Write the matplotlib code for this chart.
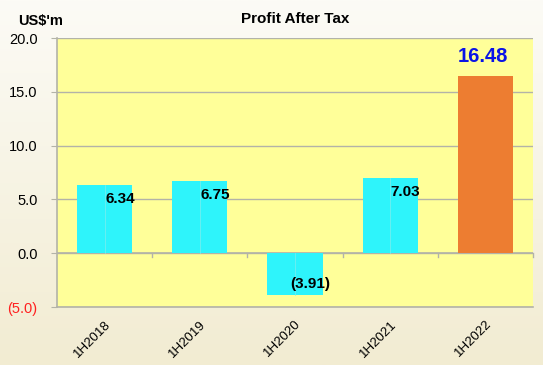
import numpy as np
import matplotlib
matplotlib.use("Agg")
import matplotlib.pyplot as plt
from matplotlib.colors import LinearSegmentedColormap

plt.rcParams["font.family"] = ["Liberation Sans", "DejaVu Sans"]

# ── Data ──────────────────────────────────────────────────────────────────────
periods = ["1H2018", "1H2019", "1H2020", "1H2021", "1H2022"]
profit = [6.34, 6.75, -3.91, 7.03, 16.48]
labels = ["6.34", "6.75", "(3.91)", "7.03", "16.48"]
yticks = [-5, 0, 5, 10, 15, 20]
ytick_labels = ["(5.0)", "0.0", "5.0", "10.0", "15.0", "20.0"]

CYAN = "#2ef4fb"
ORANGE = "#ed7d31"
PLOT_BG = "#ffff99"
GRID = "#b3b3a8"

fig = plt.figure(figsize=(5.43, 3.65), dpi=100)

# gradient background
bg = fig.add_axes([0, 0, 1, 1], zorder=-10)
cmap = LinearSegmentedColormap.from_list("bg", ["#f2ecd2", "#fcfbf6"])
bg.imshow(np.linspace(0, 1, 256).reshape(-1, 1), aspect="auto", cmap=cmap,
          origin="lower", extent=[0, 1, 0, 1])
bg.axis("off")

ax = fig.add_axes([57 / 543, 1 - 307 / 365, 476 / 543, 269 / 365])
ax.set_facecolor(PLOT_BG)

x = np.arange(len(periods))
colors = [CYAN] * 4 + [ORANGE]
bars = ax.bar(x, profit, width=0.58, color=colors, zorder=3)

# faint seam down the middle of the cyan bars
for xi, v, c in zip(x, profit, colors):
    if c == CYAN:
        ax.plot([xi, xi], [0, v], color="#7eeeee", lw=0.5, zorder=4)

# value labels
for xi, v, lab in zip(x, profit, labels):
    if lab == "16.48":
        ax.text(xi - 0.03, v + 0.9, lab, ha="center", va="bottom",
                fontsize=14.5, fontweight="bold", color="#0a14e6", zorder=5)
    elif v < 0:
        ax.text(xi + 0.16, v + 1.05, lab, ha="center", va="center",
                fontsize=11, fontweight="bold", color="black", zorder=5)
    else:
        ax.text(xi + 0.16, v - 1.3, lab, ha="center", va="center",
                fontsize=11, fontweight="bold", color="black", zorder=5)

ax.set_xlim(-0.5, len(periods) - 0.5)
ax.set_ylim(-5, 20)
ax.set_yticks(yticks)
ax.set_yticklabels(ytick_labels, fontsize=10.5)
ax.get_yticklabels()[0].set_color("#ff2020")
ax.yaxis.grid(True, color=GRID, lw=1.0, zorder=1)
ax.axhline(0, color=GRID, lw=1.2, zorder=2)
ax.tick_params(axis="y", length=4, color=GRID, pad=10)

ax.set_xticks(x)
ax.set_xticklabels(periods, rotation=45, ha="right", rotation_mode="anchor",
                   fontsize=9.5)
ax.tick_params(axis="x", length=0, pad=8)

# category boundary ticks on the zero line
for b in np.arange(0.5, len(periods) - 0.5 + 1e-9, 1.0):
    ax.plot([b, b], [0, -0.35], color=GRID, lw=1.0, zorder=2, clip_on=False)

for side in ["top", "right"]:
    ax.spines[side].set_visible(False)
for side in ["left", "bottom"]:
    ax.spines[side].set_color(GRID)
    ax.spines[side].set_linewidth(1.2)

fig.text(295 / 543, 1 - 19 / 365, "Profit After Tax", ha="center", va="center",
         fontsize=11, fontweight="bold")
fig.text(18 / 543, 1 - 21 / 365, "US$'m", ha="left", va="center",
         fontsize=10.5, fontweight="bold")

fig.savefig("out.png", dpi=100)
